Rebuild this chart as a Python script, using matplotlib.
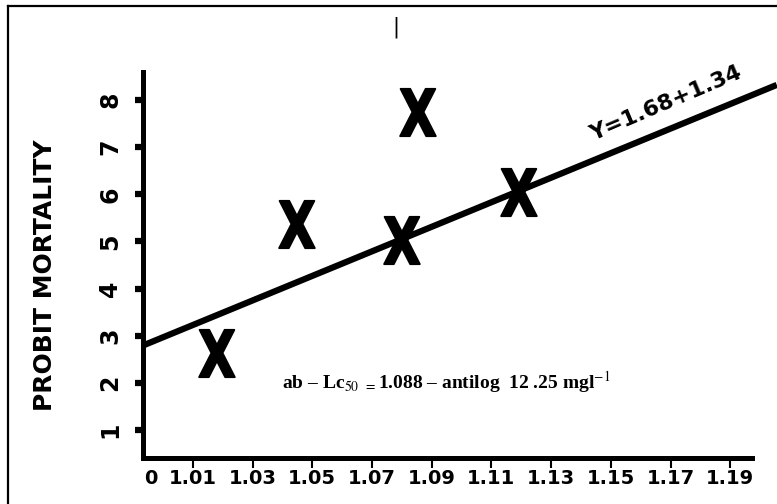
import matplotlib
matplotlib.use("Agg")
import matplotlib.pyplot as plt
from matplotlib.font_manager import FontProperties
from matplotlib.textpath import TextPath
from matplotlib.path import Path
from matplotlib.lines import Line2D

# --- dane ---
X_TICKS = [0.996, 1.01, 1.03, 1.05, 1.07, 1.09, 1.11, 1.13, 1.15, 1.17, 1.19]
X_TICK_LABELS = ["0", "1.01", "1.03", "1.05", "1.07", "1.09",
                 "1.11", "1.13", "1.15", "1.17", "1.19"]
Y_TICKS = [1, 2, 3, 4, 5, 6, 7, 8]
Y_TICK_LABELS = ["1", "2", "3", "4", "5", "6", "7", "8"]

CONC = [1.0177, 1.0444, 1.0796, 1.0852, 1.119]
PROBIT = [2.63, 5.37, 5.03, 7.75, 6.05]

FIT_X = [0.9936, 1.2056]
FIT_Y = [2.80, 8.32]

W, H = 777, 504


def x_marker():
    # gruby znak "X" jako marker, lekko zwężony
    tp = TextPath((0, 0), "X", prop=FontProperties(family="DejaVu Sans", weight="bold"), size=1)
    v = tp.vertices.copy()
    v -= (v.min(axis=0) + v.max(axis=0)) / 2
    v[:, 0] *= 0.75
    return Path(v, tp.codes)


fig = plt.figure(figsize=(W / 100, H / 100), dpi=100)
ax = fig.add_axes([143 / W, 46 / H, 609 / W, 386 / H])

ax.plot(FIT_X, FIT_Y, color="black", linewidth=4.5, solid_capstyle="butt",
        clip_on=False, zorder=2)
ax.scatter(CONC, PROBIT, marker=x_marker(), s=34 ** 2, color="black",
           edgecolors="black", linewidths=1.4, clip_on=False, zorder=3)

ax.set_xlim(0.9933, 1.1973)
ax.set_ylim(0.406, 8.594)

for side in ("top", "right"):
    ax.spines[side].set_visible(False)
for side in ("left", "bottom"):
    ax.spines[side].set_linewidth(3.6)
    ax.spines[side].set_capstyle("projecting")

ax.set_xticks(X_TICKS)
ax.set_xticklabels(X_TICK_LABELS, fontsize=14, fontweight="heavy")
ax.xaxis.get_major_ticks()[0].tick1line.set_visible(False)
ax.set_yticks(Y_TICKS)
ax.set_yticklabels(Y_TICK_LABELS, fontsize=17, fontweight="heavy",
                   rotation=90, va="center")
ax.tick_params(axis="x", direction="out", length=7, width=1.5, pad=1)
ax.tick_params(axis="y", direction="out", length=6, width=4.5, pad=9)

fig.text(45 / W, 1 - 275 / H, "PROBIT MORTALITY", rotation=90,
         ha="center", va="center", fontsize=18, fontweight="heavy")

fig.text(666 / W, 1 - 104 / H, "Y=1.68+1.34", rotation=23,
         rotation_mode="anchor", ha="center", va="center", fontsize=16,
         fontweight="heavy")

plt.rcParams["mathtext.fontset"] = "stix"
fig.text(446 / W, 1 - 382 / H,
         "ab \u2013 Lc$_{50}$ $_{=}$1.088 \u2013 antilog  12 .25 mgl$^{-1}$",
         ha="center", va="center", fontsize=14, family="Liberation Serif",
         fontweight="bold")

fig.text(396 / W, 1 - 27 / H, "|", ha="center", va="center", fontsize=15)

# ramka wokół rysunku (górna i lewa krawędź)
fig.add_artist(Line2D([8 / W, 8 / W], [0, 1 - 6 / H], color="black", linewidth=1.6))
fig.add_artist(Line2D([8 / W, 1], [1 - 6 / H, 1 - 6 / H], color="black", linewidth=1.6))

fig.savefig("out.png", dpi=100)
plt.close(fig)
